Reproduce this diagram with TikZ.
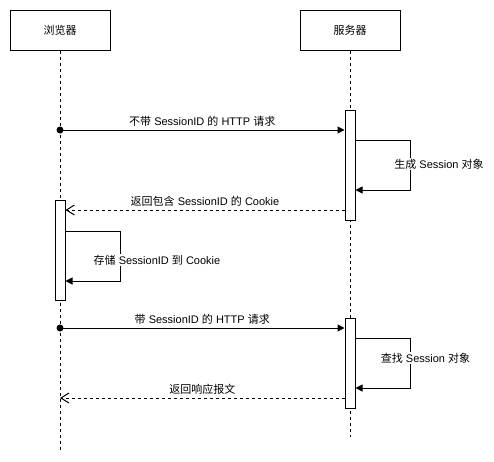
\documentclass[tikz,border=0pt]{standalone}
\usepackage{fontspec}
\setmainfont{Liberation Sans}
\newfontfamily\zhfont{Noto Sans CJK SC}
\newcommand{\zh}[1]{{\zhfont #1}}
\usetikzlibrary{arrows.meta}

\begin{document}
\begin{tikzpicture}[x=1pt, y=-1pt, line width=1pt,
    font=\fontsize{11}{13}\selectfont,
    actor/.style={draw, minimum width=100pt, minimum height=40pt, inner sep=0pt},
    bar/.style={draw, fill=white, minimum width=10pt, inner sep=0pt},
    lifeline/.style={dash pattern=on 3pt off 3pt},
    msg/.style={-{Triangle[length=7pt,width=7pt]}},
    reply/.style={dash pattern=on 3pt off 3pt, -{Straight Barb[length=8pt,width=10pt]}},
    lbl/.style={fill=white, inner sep=1pt}]
    \useasboundingbox (0,0) rectangle (494,461);

    % Participants
    \node[actor] (browser) at (60,30) {\zh{浏览器}};
    \node[actor] (server) at (350,30) {\zh{服务器}};

    % Lifelines
    \coordinate (browserEnd) at (60,450);
    \coordinate (serverEnd) at (350,437);
    \draw[lifeline] (browser.south) -- (browserEnd);
    \draw[lifeline] (server.south) -- (serverEnd);

    % Activation bars
    \node[bar, minimum height=110pt] (act1) at (350,165) {};
    \node[bar, minimum height=100pt] (act2) at (60,250) {};
    \node[bar, minimum height=90pt] (act3) at (350,363) {};

    % First request
    \coordinate (req1) at (60,130);
    \fill (req1) circle (3.5pt);
    \draw[msg] (req1) -- (act1.west |- req1)
        node[midway, yshift=9pt] {\zh{不带} SessionID \zh{的} HTTP \zh{请求}};

    % Create session
    \draw[msg] (act1.east |- 0,140) -| (410,190) -- (act1.east |- 0,190);
    \node[lbl] (genLabel) at (439,164) {\zh{生成} Session \zh{对象}};

    % Cookie reply
    \draw[reply] (act1.west |- 0,210) -- (act2.east |- 0,210)
        node[midway, yshift=9pt] {\zh{返回包含} SessionID \zh{的} Cookie};

    % Store cookie
    \draw[msg] (act2.east |- 0,231) -| (120,281) -- (act2.east |- 0,281);
    \node[lbl] (storeLabel) at (157,260) {\zh{存储} SessionID \zh{到} Cookie};

    % Second request
    \coordinate (req2) at (60,328);
    \fill (req2) circle (3.5pt);
    \draw[msg] (req2) -- (act3.west |- req2)
        node[midway, yshift=9pt] {\zh{带} SessionID \zh{的} HTTP \zh{请求}};

    % Find session
    \draw[msg] (act3.east |- 0,338) -| (410,388) -- (act3.east |- 0,388);
    \node[lbl] (findLabel) at (425.5,358) {\zh{查找} Session \zh{对象}};

    % Response
    \draw[reply] (act3.west |- 0,398) -- (browserEnd |- 0,398)
        node[midway, yshift=9pt] {\zh{返回响应报文}};
\end{tikzpicture}
\end{document}
